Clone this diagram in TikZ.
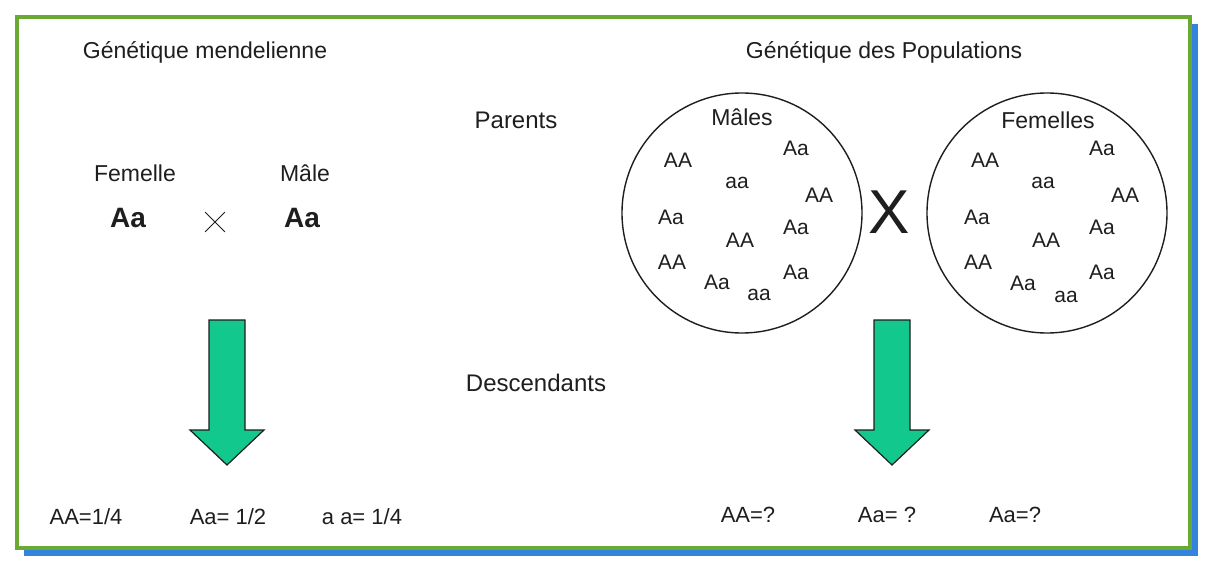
\documentclass[tikz,border=0pt]{standalone}
\usepackage{fontspec}
\setmainfont{Liberation Sans}
\usetikzlibrary{shapes.misc}
\definecolor{frameGreen}{RGB}{104,170,52}
\definecolor{shadowBlue}{RGB}{52,132,222}
\definecolor{arrowGreen}{RGB}{18,200,140}
\definecolor{ink}{RGB}{30,30,30}

\begin{document}
\begin{tikzpicture}[x=1pt,y=-1pt,
  title/.style={font=\fontsize{23}{27}\selectfont, text=ink, inner sep=0},
  lbl/.style={font=\fontsize{24}{28}\selectfont, text=ink, inner sep=0},
  sex/.style={font=\fontsize{23}{27}\selectfont, text=ink, inner sep=0},
  geno/.style={font=\fontsize{21}{25}\selectfont, text=ink, inner sep=0},
  bigAa/.style={font=\fontsize{28}{32}\selectfont\bfseries, text=ink, inner sep=0},
  res/.style={font=\fontsize{22}{26}\selectfont, text=ink, inner sep=0},
  pool/.style={circle, draw=ink, line width=1.4pt, minimum size=240pt, inner sep=0},
  flow/.style={fill=arrowGreen, draw=ink, line width=1.2pt, line join=miter},
]
\useasboundingbox (0,0) rectangle (1211,565);

% framed panel with a blue drop shadow
\fill[shadowBlue] (24,24) rectangle (1198,556);
\draw[frameGreen, line width=4pt, fill=white] (17,17) rectangle (1190,548);

% column titles
\node[title] (tMendel) at (205,52) {Génétique mendelienne};
\node[title] (tPop) at (884,52) {Génétique des Populations};

% row labels
\node[lbl] (parents) at (516,120) {Parents};
\node[lbl] (desc) at (536,383) {Descendants};

% Mendelian cross
\node[sex] (fem) at (135,173) {Femelle};
\node[sex] (male) at (305,173) {Mâle};
\node[bigAa] (aaF) at (128,218) {Aa};
\node[bigAa] (aaM) at (302,218) {Aa};
\node[cross out, draw=ink, line width=0.8pt, minimum width=19pt, minimum height=19pt, inner sep=0] (crossS) at (215,222) {};

% population pools
\node[pool] (males) at (742,213) {};
\node[pool] (females) at (1047,213) {};
\node[font=\fontsize{62}{66}\selectfont, text=ink, inner sep=0] (crossB) at (889,212) {X};

\node[sex] (mLbl) at (742,117) {Mâles};
\node[geno] (m1) at (678,160) {AA};
\node[geno] (m2) at (796,148) {Aa};
\node[geno] (m3) at (737,183) {aa};
\node[geno] (m4) at (819,195) {AA};
\node[geno] (m5) at (671,217) {Aa};
\node[geno] (m6) at (796,227) {Aa};
\node[geno] (m7) at (740,240) {AA};
\node[geno] (m8) at (672,262) {AA};
\node[geno] (m9) at (796,272) {Aa};
\node[geno] (m10) at (717,282) {Aa};
\node[geno] (m11) at (759,295) {aa};

\node[sex] (fLbl) at (1048,120) {Femelles};
\node[geno] (f1) at (985,160) {AA};
\node[geno] (f2) at (1102,148) {Aa};
\node[geno] (f3) at (1043,183) {aa};
\node[geno] (f4) at (1125,195) {AA};
\node[geno] (f5) at (977,217) {Aa};
\node[geno] (f6) at (1102,227) {Aa};
\node[geno] (f7) at (1046,240) {AA};
\node[geno] (f8) at (978,262) {AA};
\node[geno] (f9) at (1102,272) {Aa};
\node[geno] (f10) at (1023,283) {Aa};
\node[geno] (f11) at (1066,297) {aa};

% block arrows towards the offspring
\foreach \cx in {227,892}
  \draw[flow] (\cx-18,320) -- (\cx+18,320) -- (\cx+18,430) -- (\cx+37,430)
              -- (\cx,465) -- (\cx-37,430) -- (\cx-18,430) -- cycle;

% offspring frequencies
\node[res] (r1) at (86,517) {AA=1/4};
\node[res] (r2) at (228,517) {Aa= 1/2};
\node[res] (r3) at (362,517) {a a= 1/4};
\node[res] (q1) at (748,515) {AA=?};
\node[res] (q2) at (887,515) {Aa= ?};
\node[res] (q3) at (1015,515) {Aa=?};
\end{tikzpicture}
\end{document}
